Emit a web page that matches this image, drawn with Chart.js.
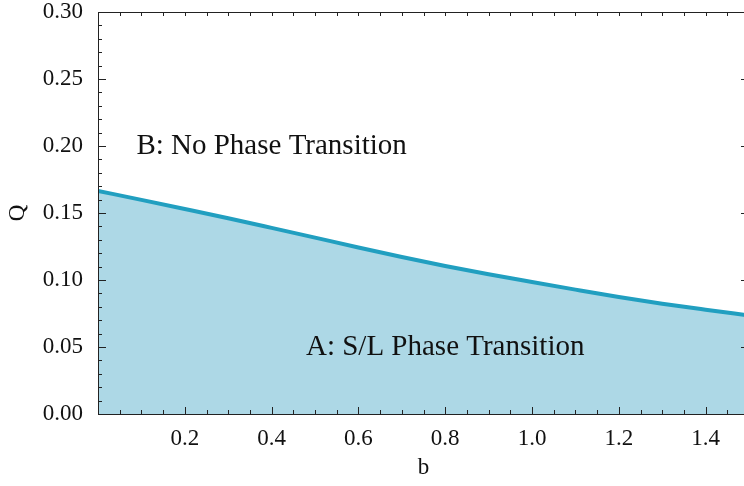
<!DOCTYPE html>
<html lang="en">
<head>
  <meta charset="UTF-8" />
  <title>Phase diagram Q vs b</title>
  <script src="https://cdn.jsdelivr.net/npm/chart.js"></script>
  <style>
    html, body {
      margin: 0;
      padding: 0;
      overflow: hidden;
      background: #fff;
    }
    #phase {
      display: block;
    }
  </style>
</head>
<body>

<canvas id="phase" width="752" height="486"></canvas>

<script>
  // boundary curve Q(b) between the two regions
  const bValues = [0, 0.1, 0.2, 0.3, 0.4, 0.5, 0.6, 0.7, 0.8, 0.9, 1.0, 1.1, 1.2, 1.3, 1.4, 1.5];
  const qValues = [0.1665, 0.1598, 0.1530, 0.1461, 0.1389, 0.1316, 0.1243, 0.1172, 0.1105, 0.1043, 0.0985, 0.0928, 0.0873, 0.0823, 0.0778, 0.0735];

  const xTickLabels = [0.2, 0.4, 0.6, 0.8, 1.0, 1.2, 1.4];
  const yTickLabels = [0, 0.05, 0.10, 0.15, 0.20, 0.25, 0.30];
  const xMinorStep = 0.05;
  const yMinorStep = 0.01;

  // region labels, placed in data coordinates
  const regionLabels = [
    { text: 'B: No Phase Transition', b: 0.4, q: 0.2 },
    { text: 'A: S/L Phase Transition', b: 0.8, q: 0.05 }
  ];

  const serif = "'Liberation Serif', 'Times New Roman', serif";
  const frameColor = '#222';

  function steps(min, max, step) {
    const out = [];
    const n = Math.round((max - min) / step);
    for (let i = 0; i <= n; i++) out.push(+(min + i * step).toFixed(4));
    return out;
  }

  // frame with inward ticks on all four sides + region texts
  const framePlugin = {
    id: 'frame',
    afterDatasetsDraw(chart) {
      const { ctx, chartArea: a, scales: { x, y } } = chart;
      ctx.save();
      ctx.strokeStyle = frameColor;
      ctx.lineWidth = 1;
      ctx.beginPath();
      ctx.rect(Math.round(a.left) + 0.5, Math.round(a.top) + 0.5,
               Math.round(a.right - a.left), Math.round(a.bottom - a.top));
      ctx.stroke();

      const isMajor = (v, list) => list.some(t => Math.abs(t - v) < 1e-6);
      ctx.beginPath();
      // left and right
      steps(y.min, y.max, yMinorStep).forEach(v => {
        const py = Math.round(y.getPixelForValue(v)) + 0.5;
        const major = isMajor(v, yTickLabels);
        const len = major ? 8 : 4;
        ctx.moveTo(a.left, py); ctx.lineTo(a.left + len, py);
        if (major) { ctx.moveTo(a.right, py); ctx.lineTo(a.right - 8, py); }
      });
      // bottom and top
      steps(x.min, x.max, xMinorStep).forEach(v => {
        const px = Math.round(x.getPixelForValue(v)) + 0.5;
        const major = isMajor(v, xTickLabels);
        ctx.moveTo(px, a.bottom); ctx.lineTo(px, a.bottom - (major ? 7 : 4));
        ctx.moveTo(px, a.top); ctx.lineTo(px, a.top + 4);
      });
      ctx.stroke();

      ctx.fillStyle = '#111';
      ctx.font = '29px ' + serif;
      ctx.textAlign = 'center';
      ctx.textBaseline = 'middle';
      regionLabels.forEach(l => {
        ctx.fillText(l.text, x.getPixelForValue(l.b), y.getPixelForValue(l.q));
      });
      ctx.restore();
    }
  };

  const ctx = document.getElementById('phase').getContext('2d');
  new Chart(ctx, {
    type: 'line',
    data: {
      datasets: [{
        data: bValues.map((b, i) => ({ x: b, y: qValues[i] })),
        borderColor: '#219fc0',
        backgroundColor: '#add8e6',
        borderWidth: 4,
        pointRadius: 0,
        fill: 'origin',
        cubicInterpolationMode: 'monotone'
      }]
    },
    options: {
      responsive: false,
      animation: false,
      devicePixelRatio: 1,
      layout: { padding: { top: 12, right: 3, left: 0, bottom: 0 } },
      plugins: {
        legend: { display: false },
        tooltip: { enabled: false }
      },
      scales: {
        x: {
          type: 'linear',
          min: 0,
          max: 1.5,
          grid: { display: false },
          border: { display: false },
          afterBuildTicks: s => { s.ticks = xTickLabels.map(v => ({ value: v })); },
          afterFit: s => { s.height = 72; s.paddingLeft = 0; s.paddingRight = 0; },
          ticks: {
            color: '#111',
            padding: 3,
            maxRotation: 0,
            font: { family: serif, size: 23 },
            callback: v => v.toFixed(1)
          },
          title: {
            display: true,
            text: 'b',
            color: '#111',
            padding: { top: 0, bottom: 4 },
            font: { family: serif, size: 23 }
          }
        },
        y: {
          type: 'linear',
          min: 0,
          max: 0.3,
          grid: { display: false },
          border: { display: false },
          afterBuildTicks: s => { s.ticks = yTickLabels.map(v => ({ value: v })); },
          afterFit: s => { s.width = 98; s.paddingTop = 0; s.paddingBottom = 0; },
          ticks: {
            color: '#111',
            padding: 7,
            font: { family: serif, size: 23 },
            callback: v => v.toFixed(2)
          },
          title: {
            display: true,
            text: 'Q',
            color: '#111',
            padding: { top: 4, bottom: 0 },
            font: { family: serif, size: 23 }
          }
        }
      }
    },
    plugins: [framePlugin]
  });
</script>

</body>
</html>
